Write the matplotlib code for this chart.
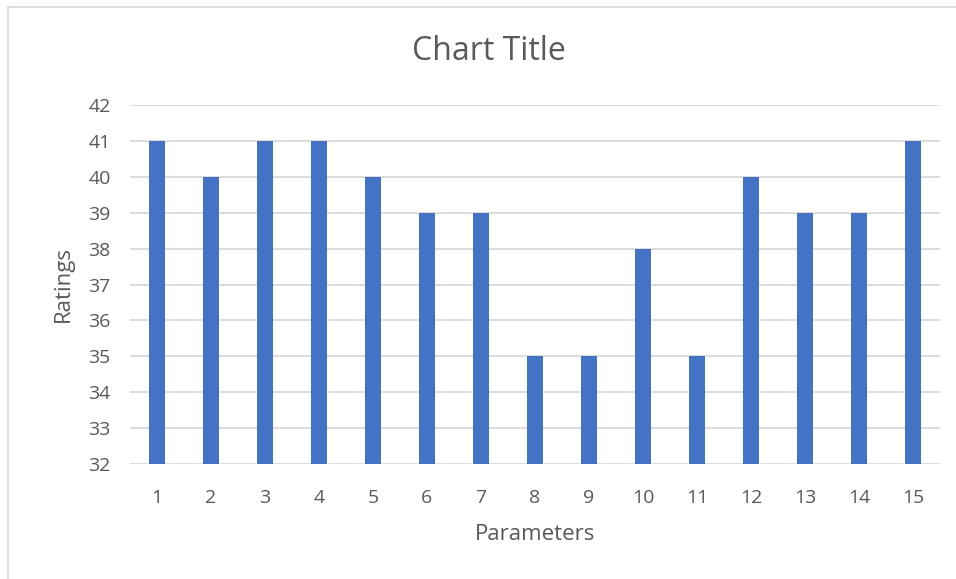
import numpy as np
from matplotlib import pyplot as plt
from matplotlib.patches import Rectangle

parameters = list(range(1, 16))
ratings = [41, 40, 41, 41, 40, 39, 39, 35, 35, 38, 35, 40, 39, 39, 41]
y_ticks = list(range(32, 43))

plt.rcParams['font.family'] = ['Open Sans', 'DejaVu Sans']
text_color = '#595959'

fig = plt.figure(figsize=(9.56, 5.79), dpi=100)
fig.patches.append(Rectangle((8 / 956, -0.1), 1.2, 1 - 7 / 579 + 0.1,
                             transform=fig.transFigure, fill=False,
                             edgecolor='#d9d9d9', linewidth=1.2))
ax = fig.add_axes([130 / 956, 1 - 464 / 579, 810 / 956, 359 / 579])

x = np.arange(len(parameters))
ax.bar(x, np.array(ratings) - 32, bottom=32, width=0.31, color='#4472C4', zorder=3)

ax.set_xlim(-0.5, len(parameters) - 0.5)
ax.set_ylim(32, 42)
ax.set_yticks(y_ticks)
ax.set_xticks(x)
ax.set_xticklabels([str(p) for p in parameters])
ax.grid(axis='y', color='#d9d9d9', linewidth=1.3, zorder=0)
for s in ax.spines.values():
    s.set_visible(False)
ax.tick_params(length=0, labelsize=14, colors=text_color)
ax.tick_params(axis='x', pad=18)
ax.tick_params(axis='y', pad=14)

ax.set_xlabel('Parameters', fontsize=16, color=text_color, labelpad=12)
ax.set_ylabel('Ratings', fontsize=16, color=text_color, labelpad=10)
fig.text(489 / 956, 1 - 52 / 579, 'Chart Title', ha='center', va='center',
         fontsize=23, color=text_color)

fig.savefig('out.png', dpi=100)
